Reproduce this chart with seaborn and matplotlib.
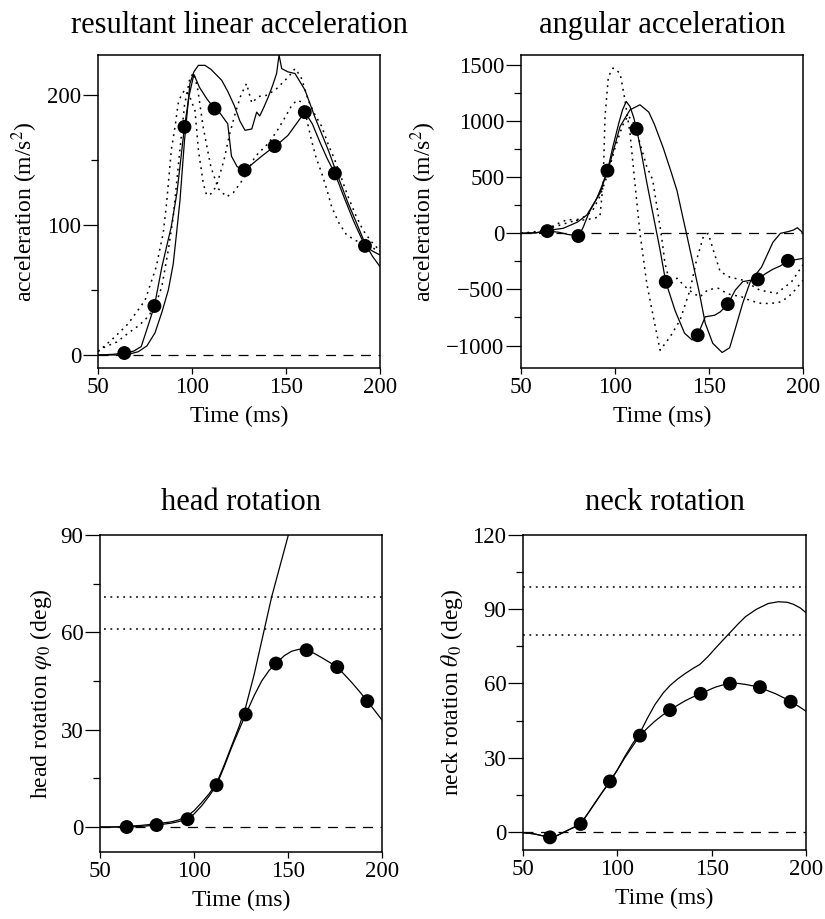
"""Four-panel head/neck response plot: linear + angular acceleration, head + neck rotation."""

import seaborn as sns
import matplotlib.pyplot as plt
from matplotlib.ticker import FixedLocator, NullLocator

#####################################
# Data
#####################################

# --- resultant linear acceleration (m/s^2)
lin_dots_t = [64, 80, 96, 112, 128, 144, 160, 176, 192]
lin_dots_v = [1.5, 37.7, 175.6, 189.7, 142.3, 160.8, 187, 139.8, 84]

lin_mark_t = [50, 58, 64, 69, 73, 76.5, 80, 84, 89, 92, 96, 98.5, 101, 104, 108, 112, 115, 119,
              121, 124, 128, 132, 137, 144, 147, 151, 155, 160, 164, 168, 172, 176, 181, 186,
              192, 196, 200]
lin_mark_v = [0, 0.5, 1.5, 3, 6.5, 22, 37.7, 68, 99, 125, 175.6, 200, 216, 206, 197, 189.7, 186,
              178, 153, 145, 142.3, 147, 153, 160.8, 164, 169, 177, 187, 178, 164, 151, 139.8,
              121, 103, 84, 80, 77]

lin_solid_t = [50, 60, 66, 71.4, 76, 80.3, 84, 87.4, 90, 91.8, 93.6, 96, 98.9, 101, 103.4, 106.9,
               110, 115.8, 119, 122.5, 125.5, 128.2, 131.8, 134.4, 136, 138, 140.6, 143, 145,
               146.3, 147.7, 151, 154.8, 160.1, 165.4, 172.5, 178, 183.1, 188, 192, 196, 200]
lin_solid_v = [0, 0, 0.5, 2.5, 7, 17, 33, 50, 70, 94, 119, 165, 209, 218, 223, 223, 220, 211.5,
               203, 192, 180, 173, 174, 187, 184, 190, 198.7, 208, 216.7, 231, 220.5, 218, 216.7,
               204, 183, 157.7, 136, 116.7, 100, 86, 76, 68]

lin_dotA_t = [50, 59, 66, 75, 81, 84.7, 86.5, 89, 91, 92.7, 94.5, 96.3, 98.5, 101.6, 103.4, 106,
              107.8, 110, 113, 117, 120, 123, 126, 129, 131.8, 135.3, 140, 145, 151.2, 154.8, 158,
              161.9, 165, 169, 172.5, 176, 179.5, 183, 187, 191, 195, 200]
lin_dotA_v = [2.5, 14, 24, 42, 68, 94, 117, 158, 176, 194, 201, 204, 200, 188, 158, 132, 123, 124,
              130, 150, 170, 186, 200, 209, 194, 199, 200, 205, 214, 220.5, 214, 196, 186, 176,
              162, 150, 136, 122, 108, 96, 88, 80]

lin_dotB_t = [50, 54, 60, 66, 72, 77, 81, 84, 87.4, 90, 93, 96, 99, 101, 103, 106, 110, 114,
              118.4, 122, 128, 133.5, 140.6, 145, 149.5, 153, 155.7, 158, 160, 163.6, 166, 169,
              172, 174.3, 178, 182, 186, 190, 195, 200]
lin_dotB_v = [3, 6.4, 10, 16.7, 23, 30, 40, 53, 81, 106, 150, 192, 214, 217, 205, 175, 145, 128,
              121.8, 125, 137, 152.6, 163, 172, 183, 192, 196, 195, 188, 165, 152, 140, 126, 114,
              102, 93, 89, 86, 83, 80]

# --- angular acceleration
ang_dots_t = [64, 80.5, 96, 111.5, 127, 144, 160, 176, 192]
ang_dots_v = [20, -24, 559, 931, -432, -908, -631, -411, -245]

ang_mark_t = [50, 58, 64, 70, 75, 80.5, 83, 86, 90, 93, 96, 99, 102, 104, 106, 108, 110, 111.5,
              114, 117, 120.5, 124, 127, 132, 137, 141, 144, 148, 153, 156, 160, 164, 168,
              172.6, 176, 180, 184, 188, 192, 196, 200]
ang_mark_v = [0, 5, 20, 10, -10, -24, 50, 178, 300, 420, 559, 780, 980, 1100, 1175, 1130, 1030,
              931, 720, 446, 148, -149, -432, -690, -890, -950, -908, -744, -730, -700, -631,
              -506, -430, -417, -411, -360, -320, -290, -245, -235, -223]

ang_solid_t = [50, 58, 64, 72.5, 80, 85, 92, 97.3, 102.7, 108, 113.3, 118, 121, 125.7, 130, 133,
               136, 138, 141, 145, 148, 152, 157, 161, 164, 168, 172, 178, 184, 188, 192, 195,
               197, 199, 200]
ang_solid_v = [0, 5, 25, 45, 100, 163, 357, 625, 952, 1101, 1146, 1080, 970, 760, 540, 380, 150,
               0, -230, -540, -800, -980, -1062, -1020, -850, -620, -430, -300, -80, 0, 15, 30,
               50, 20, 0]

ang_dot1_t = [50, 58, 64, 70, 75, 79, 84, 89, 92, 93.7, 94.7, 96.5, 99, 102.7, 105.3, 108, 110.6,
              113.3, 116.9, 120.4, 124, 129.3, 134.6, 139.9, 143.4, 147, 149.6, 152.3, 155.9, 161,
              168, 177, 186, 194, 200]
ang_dot1_v = [0, 10, 40, 90, 125, 115, 120, 135, 150, 446, 1041, 1398, 1473, 1428, 1190, 893, 446,
              0, -446, -744, -1042, -923, -774, -506, -238, -30, 0, -149, -340, -390, -417, -506,
              -536, -430, -280]

ang_dot2_t = [50, 60, 70, 78, 84, 88, 92, 96, 100, 104, 107, 110, 113, 116.9, 120, 122.2, 124.8,
              126.6, 128.4, 130, 133, 137, 141.7, 145.2, 149.6, 155, 160, 167.4, 172, 177.9, 183,
              188.5, 194, 200]
ang_dot2_v = [0, 20, 70, 110, 150, 200, 330, 520, 760, 960, 1050, 980, 820, 595, 480, 250, -30,
              -268, -387, -446, -400, -470, -536, -566, -500, -490, -540, -566, -600, -625, -625,
              -610, -540, -420]

# --- head rotation (deg)
head_dots_t = [64.2, 80.1, 96.6, 112, 127.5, 143.6, 159.9, 176.2, 192.2]
head_dots_v = [0, 0.6, 2.4, 12.9, 34.7, 50.4, 54.5, 49.3, 38.8]

head_mark_t = [50, 56, 64.2, 72, 80.1, 88, 92, 96.6, 100, 104, 108, 112, 116, 120, 124, 127.5,
               132, 136, 140, 143.6, 148, 152, 156, 159.9, 164, 168, 172, 176.2, 180, 184, 188,
               192.2, 196, 200]
head_mark_v = [0, 0, 0, 0.2, 0.6, 1.2, 1.7, 2.4, 4, 6.5, 9.5, 12.9, 18.5, 24.5, 30, 34.7, 40.5,
               45, 48.3, 50.4, 52.8, 54.2, 54.8, 54.5, 53.5, 52.2, 50.8, 49.3, 47, 44.5, 41.8,
               38.8, 36, 33]

head_solid_t = [50, 56, 64, 72, 80, 88, 92, 96, 100, 104, 108, 112, 116, 120, 124, 127.5, 132,
                136.9, 141.3, 146, 150.2, 152]
head_solid_v = [0, 0, 0.2, 0.5, 1, 1.6, 2.2, 3.2, 5, 7.5, 10.2, 13.5, 19, 25, 31, 37, 47, 59.6,
                70.9, 81, 90, 94]

head_limits = [71, 61]

# --- neck rotation (deg)
neck_dots_t = [64.3, 80.6, 96.1, 112, 127.9, 144.2, 159.7, 175.6, 191.9]
neck_dots_v = [-2.2, 3.2, 20.4, 38.9, 49.2, 55.8, 59.9, 58.5, 52.6]

neck_mark_t = [50, 56, 60, 64.3, 68, 72, 76, 80.6, 84, 88, 92, 96.1, 100, 104, 108, 112, 116,
               120, 124, 127.9, 132, 136, 140, 144.2, 148, 152, 156, 159.7, 164, 168, 172, 175.6,
               180, 184, 188, 191.9, 196, 200]
neck_mark_v = [-0.3, -0.8, -1.5, -2.2, -1.5, 0, 1.5, 3.2, 7, 11.5, 16, 20.4, 25, 30, 34.5, 38.9,
               42, 44.8, 47.2, 49.2, 51.2, 53, 54.5, 55.8, 57.2, 58.5, 59.4, 59.9, 60, 59.6, 59,
               58.5, 57, 55.8, 54.3, 52.6, 50.8, 48.8]

neck_solid_t = [50, 56, 60, 64.3, 68, 72, 76, 80.6, 84, 88, 92, 96.1, 100, 104, 108, 112, 116,
                120, 124.4, 128, 132, 136, 140, 143.8, 148, 152, 156, 159.7, 164, 168, 173.8, 180,
                185.3, 190, 193.3, 197, 200]
neck_solid_v = [-0.3, -0.8, -1.5, -2.2, -1.5, 0, 1.5, 3.2, 7, 11.5, 16, 20.4, 25, 30.5, 35.5, 40,
                46, 51.5, 56.2, 59.2, 61.8, 64, 66, 67.7, 70.8, 74.2, 77.5, 80.5, 84, 87, 90,
                92.3, 93, 92.8, 92, 90.5, 88.6]

neck_limits = [99, 79.5]

time_ticks = [50, 100, 150, 200]

#####################################
# Style
#####################################

sns.set_theme(style="ticks", rc={
    "axes.edgecolor": "black", "axes.linewidth": 1.1,
    "xtick.color": "black", "ytick.color": "black",
    "text.color": "black", "axes.labelcolor": "black",
})
plt.rcParams["font.family"] = ["Liberation Serif", "DejaVu Serif"]
plt.rcParams["mathtext.fontset"] = "stix"

DOTTED = (0, (1.2, 3))
DASHED = (0, (8, 6))


def line(ax, t, v, ls="-", lw=0.9):
    sns.lineplot(x=t, y=v, ax=ax, color="black", lw=lw, linestyle=ls,
                 estimator=None, sort=False, legend=False, zorder=3)


def dots(ax, t, v):
    sns.scatterplot(x=t, y=v, ax=ax, color="black", s=100, edgecolor="none",
                    legend=False, zorder=5)


def style_axis(ax, title, ylabel, ylim, major, minor, pad):
    ax.set_xlim(50, 200)
    ax.set_ylim(*ylim)
    ax.set_xticks(time_ticks)
    ax.xaxis.set_minor_locator(NullLocator())
    ax.set_yticks(major)
    ax.yaxis.set_minor_locator(FixedLocator(minor))
    ax.tick_params(axis="y", which="major", length=11, width=0.9, pad=1, labelsize=16.5)
    ax.tick_params(axis="y", which="minor", length=5, width=0.9)
    ax.tick_params(axis="x", which="major", length=4, width=0.9, pad=2.5, labelsize=16.5)
    ax.set_xlabel("Time (ms)", fontsize=17, labelpad=6)
    ax.set_ylabel(ylabel, fontsize=17, labelpad=5)
    ax.set_title(title, fontsize=22, pad=pad)
    ax.axhline(0, color="black", lw=0.9, linestyle=DASHED, zorder=2)
    for s in ax.spines.values():
        s.set_visible(True)


#####################################
# Figure
#####################################

fig = plt.figure(figsize=(8.25, 9.19), dpi=100)
ax1 = fig.add_axes([0.1188, 0.5996, 0.3418, 0.3406])
ax2 = fig.add_axes([0.6315, 0.5996, 0.3418, 0.3406])
ax3 = fig.add_axes([0.1212, 0.0729, 0.3418, 0.3449])
ax4 = fig.add_axes([0.6339, 0.0751, 0.3430, 0.3428])

# linear acceleration
line(ax1, lin_dotA_t, lin_dotA_v, DOTTED, 1.1)
line(ax1, lin_dotB_t, lin_dotB_v, DOTTED, 1.1)
line(ax1, lin_solid_t, lin_solid_v)
line(ax1, lin_mark_t, lin_mark_v)
dots(ax1, lin_dots_t, lin_dots_v)
style_axis(ax1, "resultant linear acceleration", r"acceleration (m/s$^2$)",
           (-10, 231), [0, 100, 200], [50, 150], 16)

# angular acceleration
line(ax2, ang_dot1_t, ang_dot1_v, DOTTED, 1.1)
line(ax2, ang_dot2_t, ang_dot2_v, DOTTED, 1.1)
line(ax2, ang_solid_t, ang_solid_v)
line(ax2, ang_mark_t, ang_mark_v)
dots(ax2, ang_dots_t, ang_dots_v)
style_axis(ax2, "angular acceleration", r"acceleration (m/s$^2$)",
           (-1200, 1590), [-1000, -500, 0, 500, 1000, 1500],
           [-750, -250, 250, 750, 1250], 16)

# head rotation
for lim in head_limits:
    ax3.axhline(lim, xmin=0.013, color="black", lw=1.1, linestyle=DOTTED, zorder=2)
line(ax3, head_solid_t, head_solid_v)
line(ax3, head_mark_t, head_mark_v)
dots(ax3, head_dots_t, head_dots_v)
style_axis(ax3, "head rotation", r"head rotation $\varphi_0$ (deg)",
           (-7.7, 90), [0, 30, 60, 90], [15, 45, 75], 18)

# neck rotation
for lim in neck_limits:
    ax4.axhline(lim, color="black", lw=1.1, linestyle=DOTTED, zorder=2)
line(ax4, neck_solid_t, neck_solid_v)
line(ax4, neck_mark_t, neck_mark_v)
dots(ax4, neck_dots_t, neck_dots_v)
style_axis(ax4, "neck rotation", r"neck rotation $\theta_0$ (deg)",
           (-7.3, 120), [0, 30, 60, 90, 120], [15, 45, 75, 105], 18)

fig.savefig("out.png", dpi=100)
